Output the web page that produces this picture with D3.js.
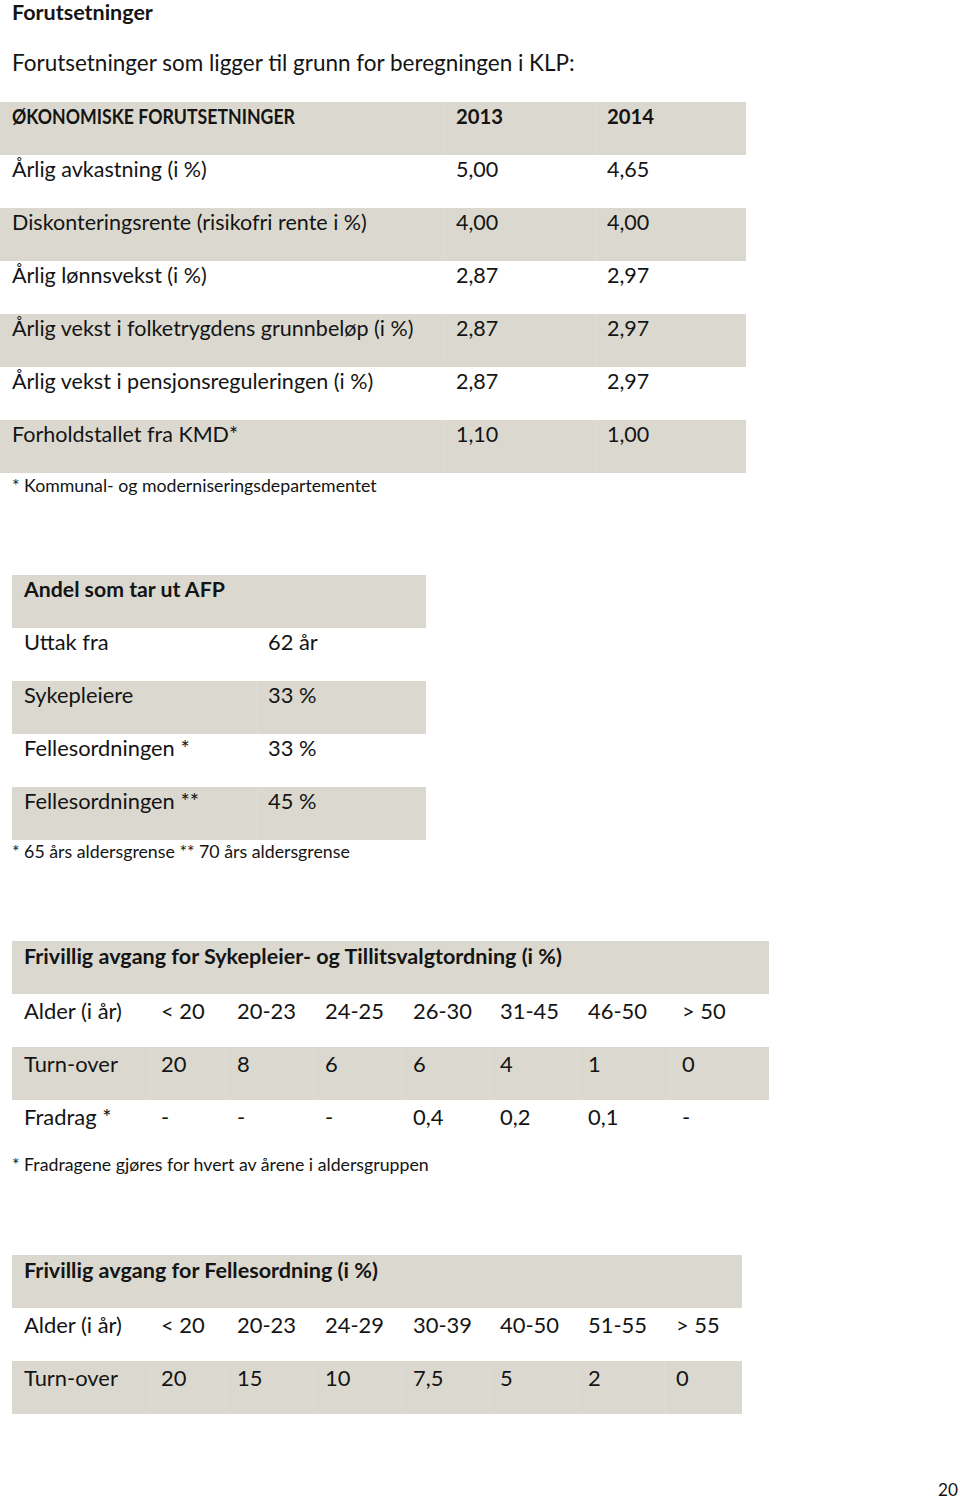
<!DOCTYPE html>
<html><head><meta charset="utf-8">
<script src="https://cdn.jsdelivr.net/npm/d3@7"></script>
<style>html,body{margin:0;padding:0;background:#fff;}svg{display:block;}</style>
</head><body>
<script>
// ---------- DATA ----------
const pageTitle = "Forutsetninger";
const introText = "Forutsetninger som ligger til grunn for beregningen i KLP:";

const t1Header = ["ØKONOMISKE FORUTSETNINGER", "2013", "2014"];
const t1Labels = ["Årlig avkastning (i %)", "Diskonteringsrente (risikofri rente i %)", "Årlig lønnsvekst (i %)",
  "Årlig vekst i folketrygdens grunnbeløp (i %)", "Årlig vekst i pensjonsreguleringen (i %)", "Forholdstallet fra KMD*"];
const t1Values2013 = ["5,00", "4,00", "2,87", "2,87", "2,87", "1,10"];
const t1Values2014 = ["4,65", "4,00", "2,97", "2,97", "2,97", "1,00"];
const t1Note = "* Kommunal- og moderniseringsdepartementet";

const t2Header = ["Andel som tar ut AFP"];
const t2Labels = ["Uttak fra", "Sykepleiere", "Fellesordningen *", "Fellesordningen **"];
const t2Values = ["62 år", "33 %", "33 %", "45 %"];
const t2Note = "* 65 års aldersgrense ** 70 års aldersgrense";

const t3Header = ["Frivillig avgang for Sykepleier- og Tillitsvalgtordning (i %)"];
const t3Ages = ["< 20", "20-23", "24-25", "26-30", "31-45", "46-50", "> 50"];
const t3Turnover = ["20", "8", "6", "6", "4", "1", "0"];
const t3Fradrag = ["-", "-", "-", "0,4", "0,2", "0,1", "-"];
const t3RowLabels = ["Alder (i år)", "Turn-over", "Fradrag *"];
const t3Note = "* Fradragene gjøres for hvert av årene i aldersgruppen";

const t4Header = ["Frivillig avgang for Fellesordning (i %)"];
const t4Ages = ["< 20", "20-23", "24-29", "30-39", "40-50", "51-55", "> 55"];
const t4Turnover = ["20", "15", "10", "7,5", "5", "2", "0"];
const t4RowLabels = ["Alder (i år)", "Turn-over"];

const pageNumber = "20";

// ---------- RENDER ----------
const W = 960, H = 1501;
const FONT = "Lato, 'Open Sans', sans-serif";
const SHADE = "#dbd9cf";
const SEP = "#dfddd4";
const INK = "#141414";

const svg = d3.select("body").append("svg").attr("width", W).attr("height", H)
  .style("font-family", FONT);

// measure helper: font size that makes a string reach a target width
const meas = svg.append("text").attr("font-size", 100).attr("x", -9999).attr("y", -9999);
function fit(str, weight, target) {
  meas.attr("font-weight", weight).text(str);
  const w = meas.node().getComputedTextLength();
  return 100 * target / w;
}

function txt(g, x, y, s, size, weight, len) {
  const t = g.append("text").attr("x", x).attr("y", y).attr("font-size", size)
    .attr("font-weight", weight || 400).attr("fill", INK).text(s);
  if (len) t.attr("textLength", len).attr("lengthAdjust", "spacingAndGlyphs");
  return t;
}

// sizes from the reference widths
const sTitle = fit(pageTitle, 700, 141);
const sIntro = fit(introText, 400, 563);
const s1 = fit(t1Labels[1], 400, 355);
const s1n = fit(t1Note, 400, 365);
const s2h = fit(t2Header[0], 700, 201);
const s2 = fit(t2Labels[3], 400, 175);
const s2n = fit(t2Note, 400, 338);
const s3h = fit(t3Header[0], 700, 538);
const s3 = fit(t3RowLabels[0], 400, 98);
const s3n = fit(t3Note, 400, 417);
const s4h = fit(t4Header[0], 700, 354);
const sPage = fit(pageNumber, 400, 20);

txt(svg, 12, 20, pageTitle, sTitle, 700);
txt(svg, 12, 71, introText, sIntro, 400);

// generic table drawer: rows = array of arrays of cell strings
function table(opts) {
  const { rows, top, left, right, colX, sepX, sepHeader, rowH, base, sizes, weights, lens } = opts;
  const y = d3.scaleBand().domain(d3.range(rows.length)).range([top, top + rows.length * rowH]);
  const g = svg.append("g");
  g.selectAll("rect.band").data(rows).join("rect")
    .attr("x", left).attr("width", right - left)
    .attr("y", (d, i) => y(i)).attr("height", y.bandwidth())
    .attr("fill", (d, i) => i % 2 === 0 ? SHADE : "none");
  // faint column separators inside the shaded rows
  rows.forEach((r, i) => {
    if (i % 2 !== 0) return;
    if (i === 0 && !sepHeader) return;
    (sepX || []).forEach(sx => {
      g.append("line").attr("x1", sx).attr("x2", sx).attr("y1", y(i)).attr("y2", y(i) + y.bandwidth())
        .attr("stroke", SEP).attr("stroke-width", 1);
    });
  });
  rows.forEach((r, i) => {
    r.forEach((c, j) => {
      const len = lens && lens[i] && lens[i][j];
      txt(g, colX[j], y(i) + base[i], c, sizes[i], weights[i], len);
    });
  });
  return y;
}

// Table 1
const t1Rows = [t1Header].concat(t1Labels.map((l, i) => [l, t1Values2013[i], t1Values2014[i]]));
table({
  rows: t1Rows, top: 102, left: 0, right: 746, rowH: 53,
  colX: [12, 456, 607], sepX: [443, 596], sepHeader: true,
  base: t1Rows.map(() => 22),
  sizes: t1Rows.map(() => s1),
  weights: t1Rows.map((d, i) => i === 0 ? 700 : 400),
  lens: [[283, 47, 47]]
});
txt(svg, 12, 492, t1Note, s1n, 400);

// Table 2
const t2Rows = [t2Header].concat(t2Labels.map((l, i) => [l, t2Values[i]]));
table({
  rows: t2Rows, top: 575, left: 12, right: 426, rowH: 53,
  colX: [24, 268], sepX: [257], sepHeader: false,
  base: t2Rows.map(() => 22),
  sizes: t2Rows.map((d, i) => i === 0 ? s2h : s2),
  weights: t2Rows.map((d, i) => i === 0 ? 700 : 400)
});
txt(svg, 12, 858, t2Note, s2n, 400);

// Table 3
const t3Rows = [t3Header, [t3RowLabels[0]].concat(t3Ages), [t3RowLabels[1]].concat(t3Turnover), [t3RowLabels[2]].concat(t3Fradrag)];
table({
  rows: t3Rows, top: 941, left: 12, right: 769, rowH: 53,
  colX: [24, 161, 237, 325, 413, 500, 588, 682], sepX: [150, 226, 314, 402, 490, 578, 670], sepHeader: false,
  base: t3Rows.map((d, i) => i === 0 ? 23 : 25),
  sizes: t3Rows.map((d, i) => i === 0 ? s3h : s3),
  weights: t3Rows.map((d, i) => i === 0 ? 700 : 400)
});
txt(svg, 12, 1171, t3Note, s3n, 400);

// Table 4
const t4Rows = [t4Header, [t4RowLabels[0]].concat(t4Ages), [t4RowLabels[1]].concat(t4Turnover)];
table({
  rows: t4Rows, top: 1255, left: 12, right: 742, rowH: 53,
  colX: [24, 161, 237, 325, 413, 500, 588, 676], sepX: [150, 226, 314, 402, 490, 578, 665], sepHeader: false,
  base: t4Rows.map((d, i) => i === 0 ? 23 : 25),
  sizes: t4Rows.map((d, i) => i === 0 ? s4h : s3),
  weights: t4Rows.map((d, i) => i === 0 ? 700 : 400)
});

txt(svg, 938, 1496, pageNumber, sPage, 400);
meas.remove();
</script>
</body></html>
